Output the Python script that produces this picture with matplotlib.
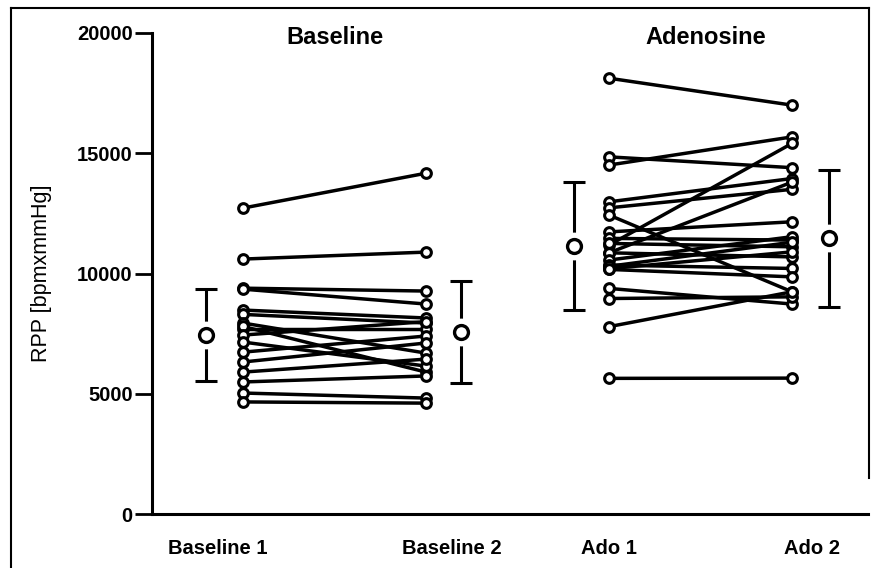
import matplotlib.pyplot as plt
from matplotlib.lines import Line2D

plt.rcParams['font.family'] = ['Liberation Sans', 'DejaVu Sans']

# individual subjects, RPP [bpm x mmHg]
baseline_1 = [12720, 10600, 9390, 9350, 8480, 8300, 7940, 7690, 7800, 7440,
              7150, 6730, 6320, 5900, 5490, 5030, 4660]
baseline_2 = [14170, 10890, 9270, 8730, 8150, 7940, 6690, 7690, 5900, 8000,
              6150, 7400, 7110, 6440, 5740, 4820, 4610]

ado_1 = [18120, 14850, 14510, 12980, 12730, 12430, 11730, 11460, 11180, 10860,
         11250, 10860, 10560, 10350, 10170, 10300, 9380, 8960, 7790, 5640, 10200]
ado_2 = [17000, 14400, 15680, 13950, 13500, 9240, 12150, 11390, 15410, 13800,
         11110, 10690, 11530, 10210, 9860, 11300, 8730, 9030, 9240, 5650, 10900]

# group mean +- SD
group_means = [7440, 7560, 11140, 11470]
group_sd = [1930, 2120, 2660, 2850]

categories = ['Baseline 1', 'Baseline 2', 'Ado 1', 'Ado 2']
cat_x = [0, 1, 2, 3]
mean_x = [-0.2, 1.19, 1.81, 3.2]
label_x = [-0.14, 1.14, 2.0, 3.11]
yticks = [0, 5000, 10000, 15000, 20000]

fig = plt.figure(figsize=(8.73, 5.68), dpi=100)
ax = fig.add_axes([152 / 873, 54 / 568, 716 / 873, 481 / 568])

for a, b in zip(baseline_1, baseline_2):
    ax.plot([cat_x[0], cat_x[1]], [a, b], color='black', lw=2.5,
            marker='o', ms=7, mfc='white', mec='black', mew=2.2, zorder=3)
for a, b in zip(ado_1, ado_2):
    ax.plot([cat_x[2], cat_x[3]], [a, b], color='black', lw=2.5,
            marker='o', ms=7, mfc='white', mec='black', mew=2.2, zorder=3)

# mean +- SD with a gap around the circle
for x, m, s in zip(mean_x, group_means, group_sd):
    ax.errorbar(x, m, yerr=s, fmt='none', ecolor='black', elinewidth=2.2,
                capsize=8, capthick=2.2, zorder=2)
    ax.plot(x, m, marker='o', ms=19, mfc='white', mec='white', zorder=4)
    ax.plot(x, m, marker='o', ms=10, mfc='white', mec='black', mew=2.4, zorder=5)

ax.set_xlim(-0.497, 3.415)
ax.set_ylim(0, 20000)
ax.set_yticks(yticks)
ax.set_yticklabels([str(t) for t in yticks], fontsize=14.5, fontweight='bold')
ax.set_xticks(label_x)
ax.set_xticklabels(categories, fontsize=14.5, fontweight='bold')
ax.tick_params(axis='x', length=0, pad=18)
ax.tick_params(axis='y', length=12, width=2, pad=2)
ax.set_ylabel('RPP [bpmxmmHg]', fontsize=15.5, labelpad=18)

ax.spines['top'].set_visible(False)
ax.spines['right'].set_visible(False)
ax.spines['left'].set_linewidth(2.2)
ax.spines['bottom'].set_linewidth(2.2)

ax.text(0.5, 19800, 'Baseline', ha='center', va='center', fontsize=17,
        fontweight='bold')
ax.text(2.53, 19800, 'Adenosine', ha='center', va='center', fontsize=17,
        fontweight='bold')

# frame around the figure
fig.add_artist(Line2D([11 / 873, 11 / 873], [0, 1 - 8 / 568],
                      transform=fig.transFigure, color='black', lw=1.5))
fig.add_artist(Line2D([11 / 873, 869 / 873], [1 - 8 / 568, 1 - 8 / 568],
                      transform=fig.transFigure, color='black', lw=1.5))
fig.add_artist(Line2D([869 / 873, 869 / 873], [1 - 8 / 568, 90 / 568],
                      transform=fig.transFigure, color='black', lw=1.5))

fig.savefig('out.png', dpi=100)
